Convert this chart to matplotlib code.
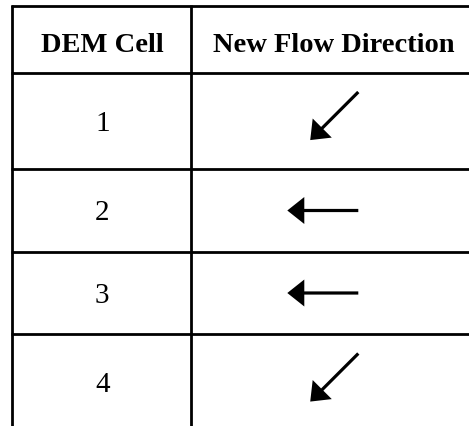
import matplotlib
matplotlib.use("Agg")
import matplotlib.pyplot as plt

# ---- data ----
headers = ["DEM Cell", "New Flow Direction"]
cells = ["1", "2", "3", "4"]
directions = ["SW", "W", "W", "SW"]

# ---- layout (pixels) ----
W, H = 469, 426
col_edges = [11.5, 191, 476]
row_edges = [5.7, 73, 169, 252, 334, 431]
dir_vec = {"W": (-1.0, 0.0), "SW": (-0.7071, 0.7071)}
tail_offset = {"W": 0.0, "SW": -29.0}
arrow_len = {"W": 71.0, "SW": 68.0}
tail_x = 358.3

fig = plt.figure(figsize=(W / 100, H / 100), dpi=100)
ax = fig.add_axes([0, 0, 1, 1])
ax.set_xlim(0, W)
ax.set_ylim(H, 0)
ax.axis("off")

lw = 2.0
for y in row_edges[:-1]:
    ax.plot([col_edges[0] - 1, col_edges[-1]], [y, y], color="black", lw=lw,
            solid_capstyle="butt", clip_on=False)
for x in col_edges[:-1]:
    ax.plot([x, x], [row_edges[0] - 1, H + 5], color="black", lw=lw,
            solid_capstyle="butt", clip_on=False)

font = "Liberation Serif"
fs = 20.5
col_centers = [(col_edges[i] + col_edges[i + 1]) / 2 for i in range(2)]
col_centers[0] += 1.5

# headers
for c, h in zip(col_centers, headers):
    ax.text(c, 51.5, h, ha="center", va="baseline", fontsize=fs,
            fontweight="bold", family=font)

# body rows
for i, (cell, d) in enumerate(zip(cells, directions)):
    y0, y1 = row_edges[i + 1], row_edges[i + 2]
    yc = (y0 + y1) / 2
    ax.text(col_centers[0] - 0.5, yc + 10, cell, ha="center", va="baseline",
            fontsize=21, family=font)
    vx, vy = dir_vec[d]
    L = arrow_len[d]
    ax.arrow(tail_x, yc + tail_offset[d], vx * L, vy * L, width=3.2,
             head_width=27, head_length=17, length_includes_head=True,
             color="black", lw=0)

fig.savefig("out.png", dpi=100)
